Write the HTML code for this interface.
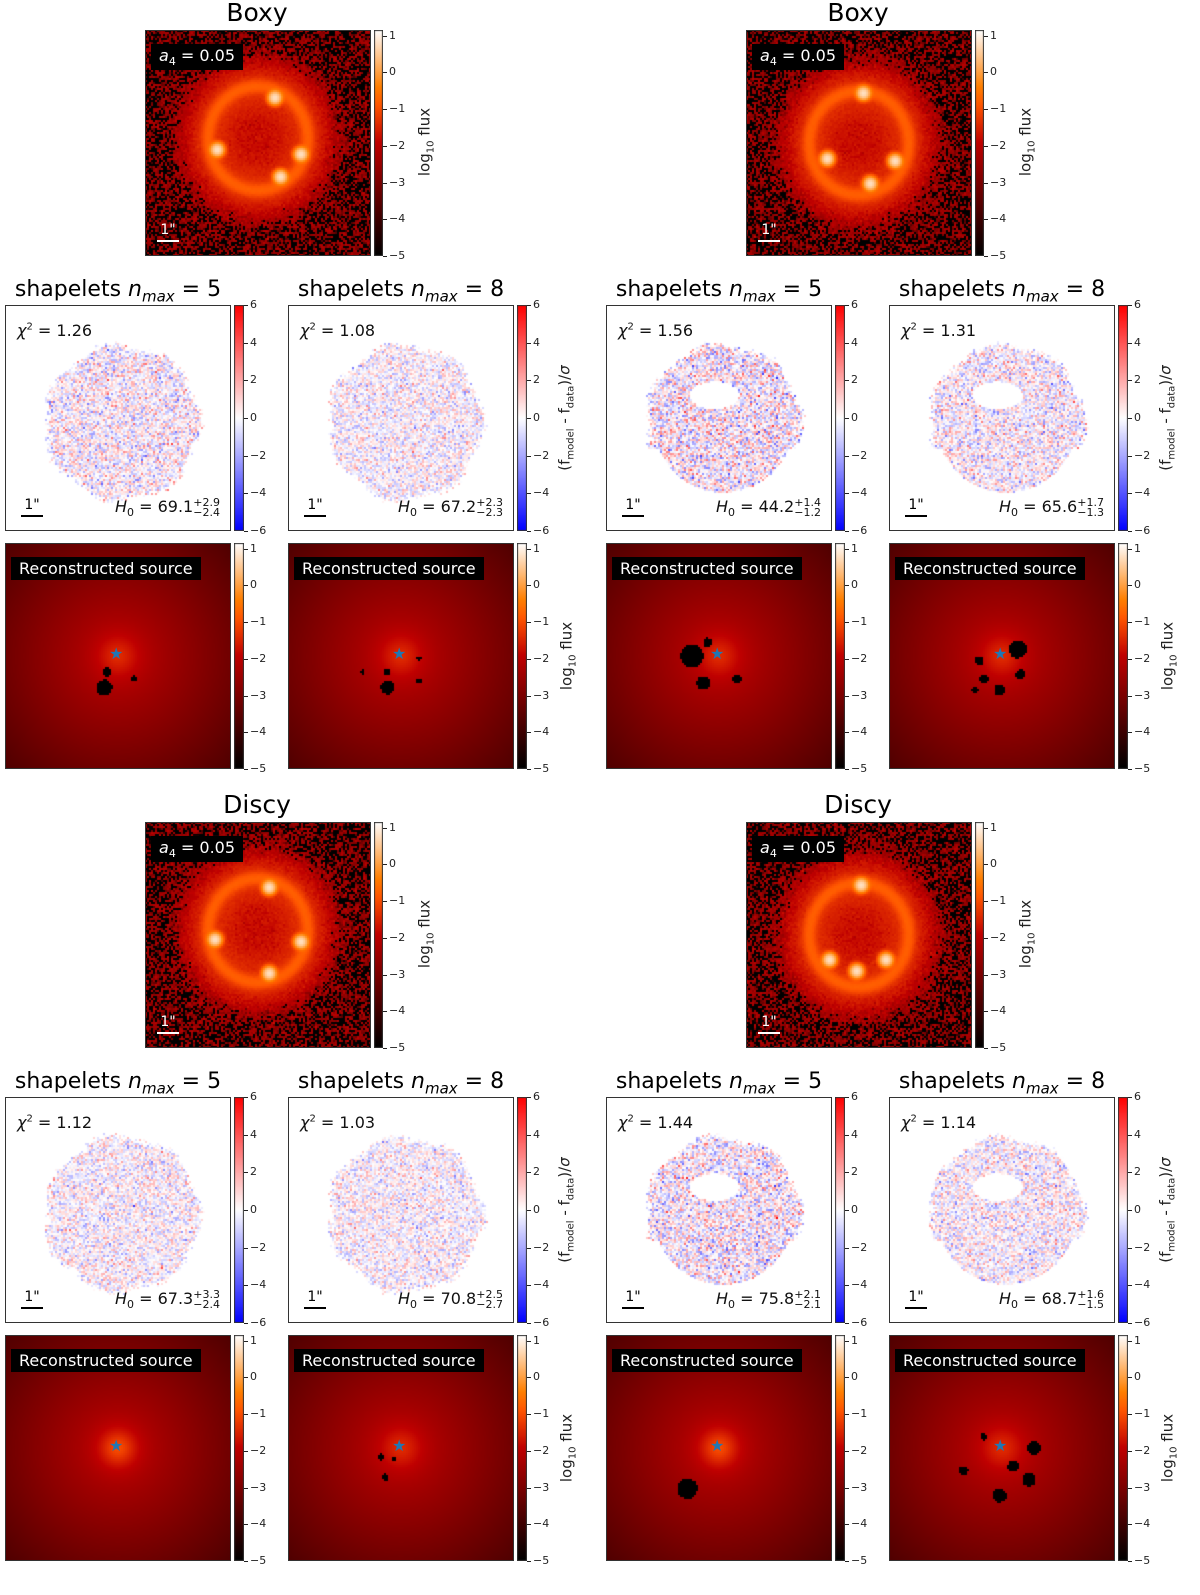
<!DOCTYPE html>
<html><head><meta charset="utf-8">
<style>
body{margin:0;background:#fff;width:1200px;height:1595px;position:relative;overflow:hidden;font-family:"DejaVu Sans","Liberation Sans",sans-serif;}
.abs{position:absolute;}
canvas{position:absolute;}
.frame{position:absolute;border:1.5px solid #333;box-sizing:border-box;pointer-events:none;}
.title{position:absolute;font-size:25px;color:#000;text-align:center;white-space:nowrap;transform:translateX(-50%);}
.stitle{position:absolute;font-size:22px;color:#000;white-space:nowrap;transform:translateX(-50%);}
.tick{position:absolute;font-size:11px;color:#222;white-space:nowrap;}
.tickline{position:absolute;width:4px;height:1px;background:#222;}
.cblabel{position:absolute;font-size:15px;color:#222;white-space:nowrap;transform:translate(-50%,-50%) rotate(-90deg);}
.box{position:absolute;background:#000;color:#fff;font-size:16px;padding:2px 8px;white-space:nowrap;}
.txt{position:absolute;font-size:16px;color:#111;white-space:nowrap;}
.sb{position:absolute;font-size:14px;text-align:center;width:22px;}
.sbline{position:absolute;height:2px;width:22px;}
</style></head>
<body>
<div id="root"></div>
<script>
// ---- data arrays ----
const lensTicks=[1,0,-1,-2,-3,-4,-5];
const resTicks=[6,4,2,0,-2,-4,-6];
const lensVmin=-5, lensVmax=1.15;
const resVmin=-6, resVmax=6;
const titles=["Boxy","Boxy","Discy","Discy"];
const chi2=[["1.26","1.08"],["1.56","1.31"],["1.12","1.03"],["1.44","1.14"]];
const h0=[[["69.1","+2.9","−2.4"],["67.2","+2.3","−2.3"]],[["44.2","+1.4","−1.2"],["65.6","+1.7","−1.3"]],
          [["67.3","+3.3","−2.4"],["70.8","+2.5","−2.7"]],[["75.8","+2.1","−2.1"],["68.7","+1.6","−1.5"]]];
const lensSpots=[[[0.575,0.30],[0.32,0.53],[0.60,0.65],[0.69,0.55]],
                 [[0.52,0.28],[0.36,0.57],[0.55,0.68],[0.66,0.58]],
                 [[0.55,0.29],[0.31,0.52],[0.55,0.67],[0.69,0.53]],
                 [[0.51,0.28],[0.37,0.61],[0.49,0.66],[0.62,0.61]]];
const srcBlobs=[[[[0.44,0.64,0.035],[0.45,0.57,0.02],[0.57,0.60,0.012]],
                 [[0.44,0.64,0.03],[0.44,0.57,0.015],[0.58,0.61,0.012],[0.58,0.51,0.01],[0.33,0.57,0.01]]],
                [[[0.38,0.50,0.05],[0.43,0.62,0.03],[0.58,0.60,0.02],[0.45,0.44,0.02]],
                 [[0.57,0.47,0.04],[0.40,0.52,0.02],[0.49,0.65,0.025],[0.42,0.60,0.02],[0.58,0.58,0.02],[0.38,0.65,0.015]]],
                [[],
                 [[0.41,0.54,0.015],[0.43,0.63,0.015],[0.47,0.55,0.012]]],
                [[[0.36,0.68,0.045]],
                 [[0.33,0.60,0.02],[0.49,0.71,0.03],[0.62,0.64,0.03],[0.64,0.50,0.03],[0.42,0.45,0.015],[0.55,0.58,0.025]]]];
const resSigma=[[1.2,1.0],[1.5,1.2],[1.0,0.95],[1.4,1.1]];
const resHole=[[0,0],[1,1],[0,0],[1,1]];

// ---- helpers ----
let seed=12345;
function rnd(){seed=(seed*1103515245+12345)&0x7fffffff;return seed/0x7fffffff;}
function gauss(){let u=rnd()||1e-9,v=rnd();return Math.sqrt(-2*Math.log(u))*Math.cos(2*Math.PI*v);}
function heat(t){t=Math.max(0,Math.min(1,t));return [Math.min(1,1.5*t)*255,Math.max(0,Math.min(1,2*t-1))*255,Math.max(0,Math.min(1,4*t-3))*255];}
function bwr(t){t=Math.max(0,Math.min(1,t));if(t<0.5){const k=t*2;return [k*255,k*255,255];}const k=(1-t)*2;return [255,k*255,k*255];}
const root=document.getElementById('root');
function el(tag,cls,x,y,w,h){const e=document.createElement(tag);if(cls)e.className=cls;e.style.left=x+'px';e.style.top=y+'px';if(w!=null)e.style.width=w+'px';if(h!=null)e.style.height=h+'px';e.classList.add('abs');root.appendChild(e);return e;}
const P=226, N=113;
function mkCanvas(x,y,name){const c=document.createElement('canvas');c.width=P;c.height=P;c.style.left=x+'px';c.style.top=y+'px';


root.appendChild(c);return c;}
function fill(c,fn){const ctx=c.getContext('2d');const img=ctx.createImageData(P,P);
for(let j=0;j<N;j++)for(let i=0;i<N;i++){const col=fn((i+0.5)/N,(j+0.5)/N);
for(let dy=0;dy<2;dy++)for(let dx=0;dx<2;dx++){const k=((j*2+dy)*P+(i*2+dx))*4;img.data[k]=col[0];img.data[k+1]=col[1];img.data[k+2]=col[2];img.data[k+3]=255;}}
ctx.putImageData(img,0,0);}
function frame(x,y,name){const f=el('div','frame',x,y,P,P);

}
function colorbar(x,y,w,h,map,ticks,vmin,vmax,name){
 const c=document.createElement('canvas');c.width=w;c.height=h;c.style.left=x+'px';c.style.top=y+'px';
 
 
 root.appendChild(c);const ctx=c.getContext('2d');
 for(let j=0;j<h;j++){const col=map(1-j/(h-1));ctx.fillStyle=`rgb(${col[0]|0},${col[1]|0},${col[2]|0})`;ctx.fillRect(0,j,w,1);}
 ctx.strokeStyle='#333';ctx.lineWidth=1;ctx.strokeRect(0.5,0.5,w-1,h-1);
 ticks.forEach(t=>{const ty=y+(vmax-t)/(vmax-vmin)*h;
  const l=el('div','tickline',x+w,ty);
  
  
  const lb=el('div','tick',x+w+6,ty-7);lb.textContent=(t<0?'−'+(-t):''+t);
  
  });
}
function scalebar(x,y,color,name){const t=el('div','sb',x,y);t.textContent='1"';t.style.color=color;


const l=el('div','sbline',x,y+18);l.style.background=color;

}

// ---- build quadrants ----
const offs=[[0,0],[601,0],[0,792],[601,792]];
offs.forEach(([ox,oy],q)=>{
 const tt=el('div','title',ox+257,oy-2);tt.textContent=titles[q];
 
 
 const lx=ox+145, ly=oy+30;
 const lc=mkCanvas(lx,ly,'lens-image');
 const spots=lensSpots[q]; const cy=(q%2===1)?0.5:0.48;
 fill(lc,(u,v)=>{const dx=(u-0.5)/0.22,dy=(v-cy)/0.23;const r=Math.sqrt(dx*dx+dy*dy);
  const rr=Math.sqrt((u-0.5)**2+(v-cy)**2);
  let f=0.12*Math.exp(-((r-1)**2)/(2*0.08*0.08))+0.035*Math.exp(-((r-1)**2)/(2*0.3*0.3))+0.012*Math.exp(-(r*r*r*r)/1.0)+0.004*Math.exp(-rr/0.25);
  spots.forEach(s=>{const d2=(u-s[0])**2+(v-s[1])**2;f+=6*Math.exp(-d2/(2*0.014*0.014));});
  f+=gauss()*0.004;
  const lv=f>0?Math.log10(f):-5; return heat((lv-lensVmin)/(lensVmax-lensVmin));});
 frame(lx,ly,'lens-frame');
 const a4=el('div','box',lx+6,ly+14);a4.innerHTML='<i>a</i><sub style="font-size:11px">4</sub> = 0.05';
 
 
 scalebar(lx+12,ly+192,'#fff','lens-scale-bar');
 colorbar(ox+374,ly,9,P,t=>heat(t),lensTicks,lensVmin,lensVmax,'lens-colorbar');
 const ll=el('div','cblabel',ox+426,ly+112);ll.innerHTML='log<sub style="font-size:10px">10</sub> flux';
 
 
 [0,1].forEach(k=>{
  const px=ox+5+k*283, ry=oy+305, sy=oy+543;
  const st=el('div','stitle',px+113,oy+277);st.innerHTML='shapelets <i>n<sub style="font-size:15px">max</sub></i> = '+(k?8:5);
  
  
  const rc=mkCanvas(px,ry,'residual-map');
  const sig=resSigma[q][k], hole=resHole[q][k];
  fill(rc,(u,v)=>{const dx=u-0.52,dy=v-0.52;const ang=Math.atan2(dy,dx);
   let R=0.34+0.012*Math.cos(7*ang)+0.03*(rnd()-0.5);if(hole&&dy>0.12)R=0.31;
   const r=Math.sqrt(dx*dx+dy*dy);if(r>R)return [255,255,255];
   if(hole){const hx=(u-0.48)/0.11,hy=(v-0.4)/0.06;if(hx*hx+hy*hy<1)return [255,255,255];}
   return bwr((gauss()*sig-resVmin)/(resVmax-resVmin));});
  frame(px,ry,'residual-frame');
  const c2=el('div','txt',px+12,ry+16);c2.innerHTML='<i>χ</i><sup style="font-size:10px">2</sup> = '+chi2[q][k];
  
  
  const hv=h0[q][k];
  const h=el('div','txt',px+110,ry+192);h.innerHTML='<i>H</i><sub style="font-size:11px">0</sub> = '+hv[0]+'<span style="display:inline-block;vertical-align:-4px;font-size:11px;line-height:10px">'+hv[1]+'<br>'+hv[2]+'</span>';
  
  
  scalebar(px+16,ry+192,'#000','residual-scale-bar');
  colorbar(px+229,ry,10,P,t=>bwr(t),resTicks,resVmin,resVmax,'residual-colorbar');
  const sc=mkCanvas(px,sy,'source-map');
  const blobs=srcBlobs[q][k]; const bright=(q>=2&&k===0)?1:0;
  fill(sc,(u,v)=>{const r=Math.sqrt((u-0.5)**2+(v-0.5)**2);
   for(const b of blobs){if((u-b[0])**2+(v-b[1])**2<b[2]*b[2])return [0,0,0];}
   let lv=-1.9-2.6*r+0.5*Math.exp(-r*r/(2*0.07*0.07))+(bright?0.4*Math.exp(-r*r/(2*0.05*0.05)):0);
   return heat((lv-lensVmin)/(lensVmax-lensVmin));});
  frame(px,sy,'source-frame');
  const rb=el('div','box',px+6,sy+14);rb.textContent='Reconstructed source';
  
  
  const star=el('div','txt',px+104,sy+101);star.textContent='★';star.style.color='#1f77b4';star.style.fontSize='16px';
  
  
  colorbar(px+229,sy,10,P,t=>heat(t),lensTicks,lensVmin,lensVmax,'source-colorbar');
 });
 const rl=el('div','cblabel',ox+566,oy+418);rl.innerHTML='(f<sub style="font-size:10px">model</sub> - f<sub style="font-size:10px">data</sub>)/<i>σ</i>';
 
 
 const sl=el('div','cblabel',ox+568,oy+656);sl.innerHTML='log<sub style="font-size:10px">10</sub> flux';
 
 
});
</script>
</body></html>
